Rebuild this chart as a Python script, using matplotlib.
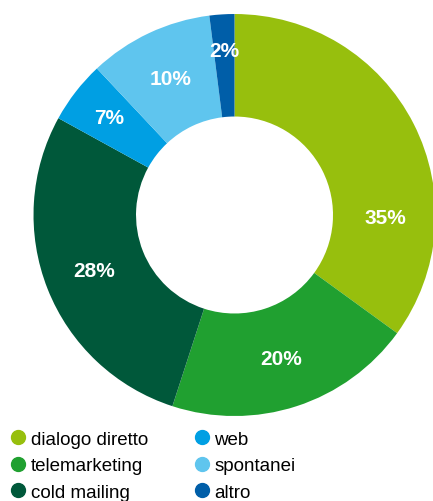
import matplotlib.pyplot as plt
import numpy as np
from matplotlib.lines import Line2D

categories = ['dialogo diretto', 'telemarketing', 'cold mailing', 'web', 'spontanei', 'altro']
shares = [35, 20, 28, 5, 10, 2]          # wedge sizes as drawn
labels = ['35%', '20%', '28%', '7%', '10%', '2%']   # printed on the chart
colors = ['#97BF0D', '#20A030', '#00583A', '#009FE3', '#5FC5EE', '#005EA8']

plt.rcParams['font.family'] = ['Liberation Sans', 'DejaVu Sans']

fig = plt.figure(figsize=(4.33, 5.02), dpi=100)
ax = fig.add_axes([0.0774, 0.1693, 0.9284, 0.8008])

wedges, _ = ax.pie(shares, colors=colors, startangle=90, counterclock=False,
                   radius=1, wedgeprops=dict(width=0.51, linewidth=0))
ax.set_xlim(-1, 1)
ax.set_ylim(-1, 1)
ax.set_aspect('equal')

# label positions: middle of each wedge, first one sits lower
label_r = [0.75, 0.75, 0.75, 0.79, 0.75, 0.82]
for i, w in enumerate(wedges):
    ang = (w.theta1 + w.theta2) / 2
    if i == 0:
        ang = -1
    r = label_r[i]
    ax.text(r * np.cos(np.radians(ang)), r * np.sin(np.radians(ang)), labels[i],
            ha='center', va='center', color='white', fontsize=15, fontweight='bold')

handles = [Line2D([], [], marker='o', linestyle='none', markersize=10,
                  markerfacecolor=c, markeredgecolor=c) for c in colors]
fig.legend(handles, categories, ncol=2, loc='upper left', bbox_to_anchor=(0.012, 0.155),
           frameon=False, fontsize=13.5, handlelength=0.6, handletextpad=0.35,
           labelspacing=0.5, columnspacing=2.6, borderaxespad=0)

fig.savefig('out.png', dpi=100)
